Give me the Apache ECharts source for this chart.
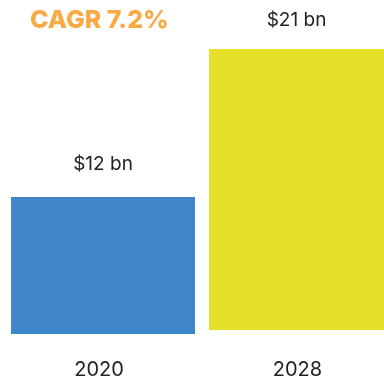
<!DOCTYPE html>
<html>
<head>
<meta charset="utf-8">
<script src="https://cdn.jsdelivr.net/npm/echarts@6/dist/echarts.min.js"></script>
<style>
  html, body { margin: 0; padding: 0; background: #ffffff; }
  #chart { width: 384px; height: 380px; }
</style>
</head>
<body>
<div id="chart"></div>
<script>
// Market size by year (USD billions)
const years = ['2020', '2028'];
const marketSize = [12, 21];
const barColors = ['#3e86c8', '#e6e02a'];
const cagrText = 'CAGR 7.2%';

// Each year sits in its own panel
const panels = [
  { left: 11, right: 189, top: 197, bottom: 46, labelMargin: 26, labelGap: 23, labelShift: -4 },
  { left: 209, right: 0, top: 49, bottom: 50, labelMargin: 30, labelGap: 19, labelShift: 1 }
];

const font = 'Inter, "Noto Sans", sans-serif';

const chart = echarts.init(document.getElementById('chart'), null, { renderer: 'canvas' });

const grid = [], xAxis = [], yAxis = [], series = [];
years.forEach((year, i) => {
  const p = panels[i];
  grid.push({ left: p.left, right: p.right, top: p.top, bottom: p.bottom });
  xAxis.push({
    type: 'category', gridIndex: i, data: [year],
    axisLine: { show: false }, axisTick: { show: false },
    axisLabel: {
      margin: p.labelMargin, fontSize: 20, color: '#222222', fontFamily: font,
      padding: p.labelShift < 0 ? [0, -p.labelShift * 2, 0, 0] : [0, 0, 0, p.labelShift * 2]
    }
  });
  yAxis.push({ type: 'value', gridIndex: i, min: 0, max: marketSize[i], show: false, splitLine: { show: false } });
  series.push({
    type: 'bar', xAxisIndex: i, yAxisIndex: i,
    data: [marketSize[i]], barWidth: '100%',
    itemStyle: { color: barColors[i] },
    label: {
      show: true, position: 'top', distance: p.labelGap,
      formatter: (d) => '$' + d.value + ' bn',
      fontSize: 19, color: '#222222', fontFamily: font
    }
  });
});

chart.setOption({
  animation: false,
  title: {
    text: cagrText, left: 25, top: 3,
    textStyle: { color: '#f9aa43', fontSize: 25, fontWeight: 800, fontFamily: font }
  },
  grid, xAxis, yAxis, series
});
</script>
</body>
</html>
